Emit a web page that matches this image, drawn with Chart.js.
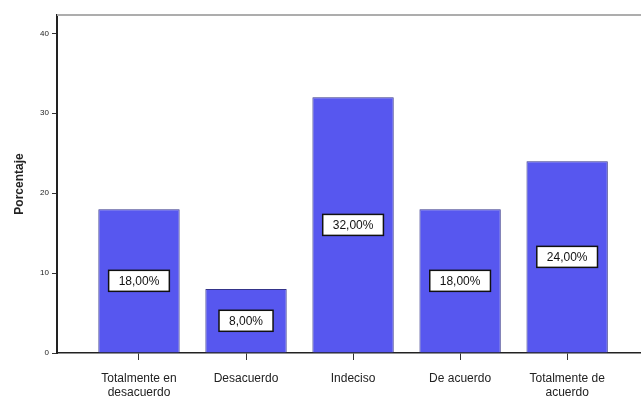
<!DOCTYPE html>
<html>
<head>
<meta charset="utf-8">
<script src="https://cdn.jsdelivr.net/npm/chart.js@4/dist/chart.umd.min.js"></script>
<style>
  html, body { margin: 0; padding: 0; background: #fff; }
  canvas { display: block; }
</style>
</head>
<body>
<canvas id="grafico" width="641" height="396"></canvas>
<script>
const categorias = [["Totalmente en", "desacuerdo"], "Desacuerdo", "Indeciso", "De acuerdo", ["Totalmente de", "acuerdo"]]
const porcentajes = [18, 8, 32, 18, 24]
const ticksY = [0, 10, 20, 30, 40]

const colorBarra = "#5757ef"

// white boxes with the percentage in the middle of each bar
const etiquetas = {
  id: "etiquetas",
  afterDatasetsDraw(chart) {
    const ctx = chart.ctx
    const meta = chart.getDatasetMeta(0)
    ctx.save()
    ctx.font = "12px 'Liberation Sans', Arial, sans-serif"
    ctx.textAlign = "center"
    ctx.textBaseline = "middle"
    meta.data.forEach((bar, i) => {
      const txt = porcentajes[i].toFixed(2).replace(".", ",") + "%"
      const y = (bar.y + bar.base) / 2
      const w = ctx.measureText(txt).width + 20
      const h = 21
      ctx.fillStyle = "#fff"
      ctx.fillRect(bar.x - w / 2, y - h / 2, w, h)
      ctx.strokeStyle = "#111"
      ctx.lineWidth = 1.5
      ctx.strokeRect(bar.x - w / 2, y - h / 2, w, h)
      ctx.fillStyle = "#111"
      ctx.fillText(txt, bar.x, y + 1)
    })
    ctx.restore()
  },
}

// light frame line along the top of the plot
const marcoSuperior = {
  id: "marcoSuperior",
  beforeDatasetsDraw(chart) {
    const { ctx, chartArea } = chart
    ctx.save()
    ctx.strokeStyle = "#adadad"
    ctx.lineWidth = 2
    ctx.beginPath()
    ctx.moveTo(chartArea.left, chartArea.top)
    ctx.lineTo(chartArea.right, chartArea.top)
    ctx.stroke()
    ctx.restore()
  },
}

new Chart(document.getElementById("grafico"), {
  type: "bar",
  data: {
    datasets: [
      {
        data: porcentajes.map((v, i) => ({ x: i, y: v })),
        backgroundColor: colorBarra,
        borderColor: "#34348a",
        borderWidth: 1,
        categoryPercentage: 1,
        barPercentage: 0.76,
      },
    ],
  },
  options: {
    responsive: false,
    animation: false,
    layout: { padding: { top: 15, right: 0, left: 0, bottom: 0 } },
    plugins: {
      legend: { display: false },
      tooltip: { enabled: false },
    },
    scales: {
      x: {
        type: "linear",
        offset: false,
        min: -0.766,
        max: 4.69,
        afterFit: (s) => { s.height = 43 },
        grid: { offset: false, drawOnChartArea: false, drawTicks: true, tickLength: 7, tickColor: "#333", tickWidth: 1 },
        border: { color: "#222", width: 1.5 },
        afterBuildTicks: (s) => { s.ticks = categorias.map((c, i) => ({ value: i })) },
        ticks: {
          autoSkip: false,
          maxRotation: 0,
          padding: 11,
          color: "#222",
          font: { family: "'Liberation Sans', Arial, sans-serif", size: 12 },
          callback: (v) => categorias[v],
        },
      },
      y: {
        min: 0,
        max: 42.3,
        afterFit: (s) => { s.width = 57 },
        afterBuildTicks: (s) => { s.ticks = ticksY.map((v) => ({ value: v })) },
        grid: { drawOnChartArea: false, drawTicks: true, tickLength: 5, tickColor: "#333", tickWidth: 1 },
        border: { color: "#222", width: 2 },
        ticks: {
          padding: 3,
          color: "#222",
          font: { family: "'Liberation Sans', Arial, sans-serif", size: 8 },
        },
        title: {
          display: true,
          text: "Porcentaje",
          color: "#222",
          padding: { top: 12, bottom: 0 },
          font: { family: "'Liberation Sans', Arial, sans-serif", size: 12, weight: "bold" },
        },
      },
    },
  },
  plugins: [marcoSuperior, etiquetas],
})
</script>
</body>
</html>
